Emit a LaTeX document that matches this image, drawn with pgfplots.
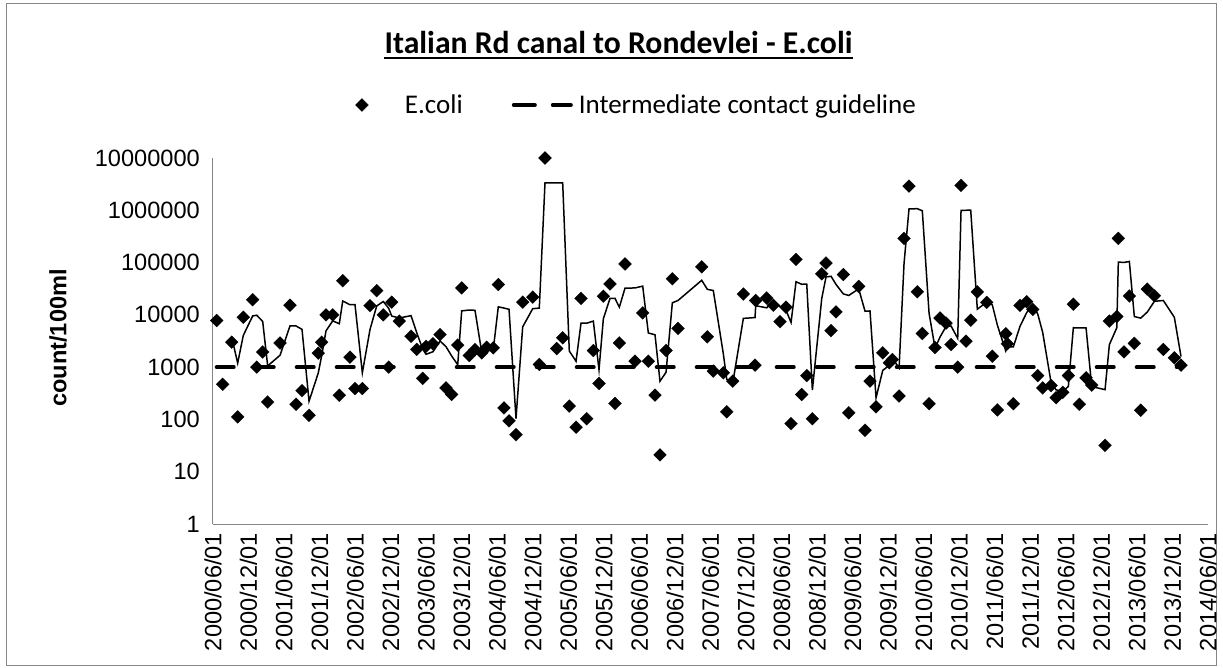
\documentclass[border=0pt]{standalone}
\usepackage{fontspec}
\setmainfont{Carlito}
\newfontfamily\arialfont{Liberation Sans}
\usepackage{pgfplots}
\usepackage{pgfplotstable}
\pgfplotsset{compat=1.18}
\definecolor{axisgray}{RGB}{134,134,134}
\definecolor{bordergray}{RGB}{134,134,134}
\newcommand\tickfont{\arialfont\fontsize{23.6bp}{28bp}\selectfont}
\newcommand\legfont{\fontsize{27bp}{32bp}\selectfont}
\newcommand\titlefont{\bfseries\fontsize{31.7bp}{38bp}\selectfont}
\newcommand\ylabfont{\arialfont\bfseries\fontsize{23.6bp}{28bp}\selectfont}

\pgfplotstableread{
t v
2000.469 7800
2000.553 470
2000.680 3000
2000.764 112
2000.843 9000
2000.975 19500
2001.032 1000
2001.116 1950
2001.186 215
2001.360 2900
2001.500 15300
2001.585 195
2001.669 355
2001.768 120
2001.898 1850
2001.946 3000
2002.007 10000
2002.101 10000
2002.194 290
2002.242 45000
2002.344 1550
2002.415 390
2002.518 390
2002.626 15000
2002.720 29000
2002.813 10000
2002.889 1000
2002.931 17500
2003.038 7600
2003.203 3900
2003.283 2180
2003.367 610
2003.414 2500
2003.512 2800
2003.611 4200
2003.695 400
2003.775 300
2003.860 2640
2003.916 32800
2004.023 1670
2004.103 2170
2004.198 1880
2004.268 2400
2004.361 2340
2004.431 38000
2004.511 166
2004.582 94
2004.680 51
2004.774 17500
2004.915 21800
2005.008 1125
2005.088 10000000
2005.253 2270
2005.337 3640
2005.430 180
2005.525 71
2005.595 20600
2005.675 103
2005.768 2080
2005.848 487
2005.909 22700
2006.003 39000
2006.073 202
2006.134 2900
2006.214 94000
2006.355 1300
2006.463 10900
2006.542 1300
2006.636 292
2006.706 21
2006.791 2080
2006.880 49000
2006.960 5500
2007.293 83000
2007.372 3800
2007.456 840
2007.597 780
2007.645 140
2007.729 540
2007.879 25000
2008.043 1090
2008.053 18800
2008.208 21000
2008.301 15300
2008.395 7400
2008.479 14000
2008.550 83
2008.620 115000
2008.700 300
2008.771 690
2008.850 103
2008.982 61000
2009.042 98000
2009.113 5000
2009.183 11400
2009.286 59000
2009.362 134
2009.502 35000
2009.591 62
2009.661 540
2009.746 174
2009.840 1880
2009.933 1210
2009.975 1400
2010.070 280
2010.140 290000
2010.210 2900000
2010.327 27600
2010.397 4400
2010.492 200
2010.576 2370
2010.646 8700
2010.731 6950
2010.801 2710
2010.895 1000
2010.942 3000000
2011.012 3140
2011.078 7900
2011.171 27500
2011.303 17300
2011.382 1620
2011.453 152
2011.571 4350
2011.593 2800
2011.678 200
2011.772 15200
2011.866 17800
2011.951 12700
2012.021 690
2012.091 400
2012.208 445
2012.279 260
2012.373 330
2012.452 690
2012.522 16000
2012.606 195
2012.701 625
2012.781 455
2012.968 32
2013.029 7600
2013.133 9300
2013.155 290000
2013.235 1960
2013.310 23000
2013.380 2850
2013.470 150
2013.563 31000
2013.662 23300
2013.788 2180
2013.943 1510
2014.037 1090
}\ecoli

\pgfplotstableread{
t ma
2000.680 3757
2000.764 1194
2000.843 4037
2000.975 9537
2001.032 9833
2001.116 7483
2001.186 1055
2001.360 1688
2001.500 6138
2001.585 6132
2001.669 5283
2001.768 223
2001.898 775
2001.946 1657
2002.007 4950
2002.101 7667
2002.194 6763
2002.242 18430
2002.344 15613
2002.415 15647
2002.518 777
2002.626 5260
2002.720 14797
2002.813 18000
2002.889 13333
2002.931 9500
2003.038 8700
2003.203 9667
2003.283 4560
2003.367 2230
2003.414 1763
2003.512 1970
2003.611 3167
2003.695 2467
2003.775 1633
2003.860 1113
2003.916 11913
2004.023 12370
2004.103 12213
2004.198 1907
2004.268 2150
2004.361 2207
2004.431 14247
2004.511 13502
2004.582 12753
2004.680 104
2004.774 5882
2004.915 13117
2005.008 13475
2005.088 3340975
2005.253 3334465
2005.337 3335303
2005.430 2030
2005.525 1297
2005.595 6950
2005.675 6925
2005.768 7594
2005.848 890
2005.909 8422
2006.003 20729
2006.073 20634
2006.134 14034
2006.214 32367
2006.355 32733
2006.463 35400
2006.542 4500
2006.636 4164
2006.706 538
2006.791 798
2006.880 17034
2006.960 18860
2007.293 45833
2007.372 30767
2007.456 29213
2007.597 1807
2007.645 587
2007.729 487
2007.879 8560
2008.043 8877
2008.053 14963
2008.208 13630
2008.301 18367
2008.395 14567
2008.479 12233
2008.550 7161
2008.620 43028
2008.700 38461
2008.771 38663
2008.850 364
2008.982 20598
2009.042 53034
2009.113 54667
2009.183 38133
2009.286 25133
2009.362 23511
2009.502 31378
2009.591 11732
2009.661 11867
2009.746 259
2009.840 865
2009.933 1088
2009.975 1497
2010.070 963
2010.140 97227
2010.210 1063427
2010.327 1072533
2010.397 977333
2010.492 10733
2010.576 2323
2010.646 3757
2010.731 6007
2010.801 6120
2010.895 3553
2010.942 1001237
2011.012 1001380
2011.078 1003680
2011.171 12847
2011.303 17567
2011.382 15473
2011.453 6357
2011.571 2041
2011.593 2434
2011.678 2450
2011.772 6067
2011.866 11067
2011.951 15233
2012.021 10397
2012.091 4597
2012.208 512
2012.279 368
2012.373 345
2012.452 427
2012.522 5673
2012.606 5628
2012.701 5607
2012.781 425
2012.968 371
2013.029 2696
2013.133 5644
2013.155 102300
2013.235 100420
2013.310 104987
2013.380 9270
2013.470 8667
2013.563 11333
2013.662 18150
2013.788 18827
2013.943 8997
2014.037 1593
}\ecolima

\begin{document}
\begin{tikzpicture}
\useasboundingbox (-213bp,-144bp) rectangle (1010bp,524bp);
\fill[white] (-213bp,-144bp) rectangle (1010bp,524bp);
\draw[bordergray, line width=1bp] (-206bp,-141bp) rectangle (1003bp,520bp);
\begin{axis}[
  at={(0,0)}, anchor=south west,
  width=995bp, height=366bp, scale only axis,
  xmin=2000.4167, xmax=2014.4167,
  ymode=log, ymin=1, ymax=10000000,
  axis x line*=bottom, axis y line*=left,
  axis line style={draw=axisgray, line width=1bp, -},
  xtick={2000.4167,2000.9167,...,2014.4167},
  xticklabels={2000/06/01,2000/12/01,2001/06/01,2001/12/01,2002/06/01,2002/12/01,2003/06/01,2003/12/01,2004/06/01,2004/12/01,2005/06/01,2005/12/01,2006/06/01,2006/12/01,2007/06/01,2007/12/01,2008/06/01,2008/12/01,2009/06/01,2009/12/01,2010/06/01,2010/12/01,2011/06/01,2011/12/01,2012/06/01,2012/12/01,2013/06/01,2013/12/01,2014/06/01},
  ytick={1,10,100,1000,10000,100000,1000000,10000000},
  yticklabels={1,10,100,1000,10000,100000,1000000,10000000},
  major tick length=0pt,
  yminorticks=false, xminorticks=false,
  tick label style={font=\tickfont},
  yticklabel style={xshift=-13bp, anchor=east, inner sep=0pt},
  xticklabel style={rotate=90, anchor=east, inner sep=0pt, outer sep=9bp},
  ylabel={count/100ml},
  ylabel style={font=\ylabfont, at={(axis description cs:-0.1558,0.5082)}, anchor=center},
  clip=false,
  legend columns=2,
  legend cell align=left,
  legend style={at={(axis description cs:0.1432,1.1448)}, anchor=west, draw=none, fill=none,
    inner sep=0pt, outer sep=0pt, font=\legfont, nodes={inner sep=0pt},
    /tikz/column 1/.style={column sep=36.5bp},
    /tikz/column 2/.style={column sep=49bp},
    /tikz/column 3/.style={column sep=6bp}},
]
\addplot[only marks, mark=square*, mark size=4.6bp, mark options={rotate=45, fill=black, draw=black, line width=0.1bp},
  legend image code/.code={\draw plot coordinates {(0bp,0bp)};}]
  table[x=t,y=v]{\ecoli};
\addlegendentry{E.coli}
\addplot[black, line width=4bp, line cap=round, dash pattern=on 17bp off 23bp,
  legend image code/.code={\draw[dash pattern=on 21bp off 18bp] (0bp,0bp) -- (57bp,0bp);}]
  coordinates {(2000.469,1000) (2014.037,1000)};
\addlegendentry{Intermediate contact guideline}
\addplot[black, line width=1.5bp, forget plot] table[x=t,y=ma]{\ecolima};
\end{axis}
\node[font=\titlefont, anchor=base, inner sep=0pt] (T) at (405.5bp,470bp) {Italian Rd canal to Rondevlei - E.coli};
\draw[line width=2bp] ([yshift=-4bp]T.base west) -- ([yshift=-4bp]T.base east);
\end{tikzpicture}
\end{document}
